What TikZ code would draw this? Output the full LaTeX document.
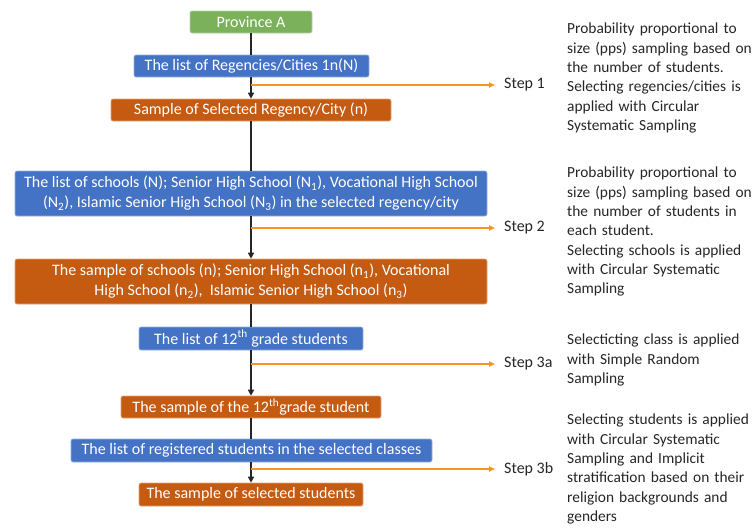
\documentclass[tikz,border=0pt]{standalone}
\usepackage{fontspec}
\setmainfont{Carlito}
\usetikzlibrary{arrows.meta}
\definecolor{boxgreen}{HTML}{7BB15A}
\definecolor{boxblue}{HTML}{4472C4}
\definecolor{boxorange}{HTML}{C55A11}
\definecolor{arrorange}{HTML}{F7941D}
\definecolor{txtdark}{HTML}{262626}
\tikzset{
  flowbox/.style={rectangle, rounded corners=2pt, fill=#1, draw=#1!55!white, line width=0.6pt,
    text=white, font=\fontsize{16}{20}\selectfont, align=center, inner sep=0pt},
  mainline/.style={draw=black!85, line width=1.8pt},
  mainarrow/.style={mainline, -{Triangle[length=6pt,width=6pt]}},
  steparrow/.style={draw=arrorange, line width=1.6pt, -{Triangle[length=6pt,width=5pt]}},
  steplabel/.style={text=txtdark, font=\fontsize{16}{19.3}\selectfont, anchor=west, inner sep=0pt},
  desc/.style={text=txtdark, font=\fontsize{15.4}{19.3}\selectfont, anchor=north west, inner sep=0pt,
    text width=186pt, align=left}
}
\begin{document}
\begin{tikzpicture}[x=1pt,y=-1pt]
\useasboundingbox (0,0) rectangle (754,528);
% boxes
\node[flowbox=boxgreen, minimum width=122pt, minimum height=22pt] (prov) at (251,22) {Province A};
\node[flowbox=boxblue, minimum width=235pt, minimum height=22pt] (listreg) at (251.5,66) {The list of Regencies/Cities 1n(N)};
\node[flowbox=boxorange, minimum width=280pt, minimum height=22pt] (sampreg) at (251,110) {Sample of Selected Regency/City (n)};
\node[flowbox=boxblue, minimum width=472pt, minimum height=45pt] (listsch) at (251,193.5) {The list of schools (N); Senior High School (N\textsubscript{1}), Vocational High School\\(N\textsubscript{2}), Islamic Senior High School (N\textsubscript{3}) in the selected regency/city};
\node[flowbox=boxorange, minimum width=472pt, minimum height=45pt] (sampsch) at (251,281.5) {The sample of schools (n); Senior High School (n\textsubscript{1}), Vocational\\High School (n\textsubscript{2}),\ \ Islamic Senior High School (n\textsubscript{3})};
\node[flowbox=boxblue, minimum width=224pt, minimum height=23pt] (listtw) at (251,338.5) {The list of 12\textsuperscript{th} grade students};
\node[flowbox=boxorange, minimum width=260pt, minimum height=22pt] (samptw) at (251,407) {The sample of the 12\textsuperscript{th}grade student};
\node[flowbox=boxblue, minimum width=361pt, minimum height=23pt] (listrs) at (251.5,450.5) {The list of registered students in the selected classes};
\node[flowbox=boxorange, minimum width=224pt, minimum height=23pt] (sampsel) at (251,494.5) {The sample of selected students};
% main vertical connectors
\draw[mainline] (prov.south -| 251,0) -- (listreg.north -| 251,0);
\draw[mainarrow] (listreg.south -| 251,0) -- (sampreg.north -| 251,0);
\draw[mainline] (sampreg.south) -- (listsch.north);
\draw[mainarrow] (listsch.south) -- (sampsch.north);
\draw[mainline] (sampsch.south) -- (listtw.north);
\draw[mainarrow] (listtw.south) -- (samptw.north);
\draw[mainline] (samptw.south) -- (listrs.north -| 251,0);
\draw[mainarrow] (listrs.south -| 251,0) -- (sampsel.north);
% step labels
\node[steplabel] (st1) at (504,85) {Step 1};
\node[steplabel] (st2) at (504,228) {Step 2};
\node[steplabel] (st3a) at (504,364) {Step 3a};
\node[steplabel] (st3b) at (504,469) {Step 3b};
\coordinate (b1) at (251,85);
\coordinate (b2) at (251,228);
\coordinate (b3a) at (251,364);
\coordinate (b3b) at (251,469);
\draw[steparrow] (b1) -- ([xshift=-9pt]st1.west);
\draw[steparrow] (b2) -- ([xshift=-9pt]st2.west);
\draw[steparrow] (b3a) -- ([xshift=-9pt]st3a.west);
\draw[steparrow] (b3b) -- ([xshift=-9pt]st3b.west);
% descriptions
\node[desc] (d1) at (567,23) {Probability proportional to\\size (pps) sampling based on\\the number of students.\\Selecting regencies/cities is\\applied with Circular\\Systematic Sampling};
\node[desc] (d2) at (567,167) {Probability proportional to\\size (pps) sampling based on\\the number of students in\\each student.\\Selecting schools is applied\\with Circular Systematic\\Sampling};
\node[desc] (d3a) at (567,334) {Selecticting class is applied\\with Simple Random\\Sampling};
\node[desc] (d3b) at (567,414) {Selecting students is applied\\with Circular Systematic\\Sampling and Implicit\\stratification based on their\\religion backgrounds and\\genders};
\end{tikzpicture}
\end{document}
